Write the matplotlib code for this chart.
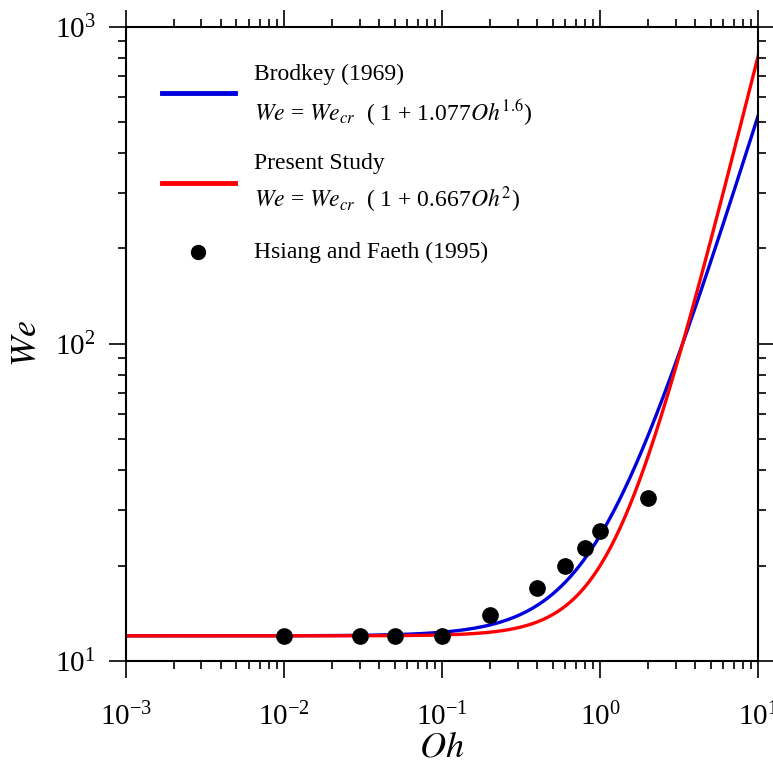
import numpy as np
import matplotlib
matplotlib.use("Agg")
import matplotlib.pyplot as plt
from matplotlib.ticker import LogLocator, NullFormatter

plt.rcParams['font.family'] = ['Liberation Serif', 'DejaVu Serif']
plt.rcParams['mathtext.fontset'] = 'stix'

# Model parameters (from the legend equations)
we_cr = 12.0
brodkey_coef, brodkey_exp = 1.077, 1.6
present_coef, present_exp = 0.667, 2.0

# Experimental data: Hsiang and Faeth (1995)
oh_data = [0.01, 0.03, 0.05, 0.1, 0.2, 0.4, 0.6, 0.8, 1.0, 2.0]
we_data = [12.0, 12.0, 12.0, 12.0, 14.0, 17.0, 19.9, 22.7, 25.7, 32.7]

oh = np.logspace(-3, 1, 400)
we_brodkey = we_cr * (1 + brodkey_coef * oh ** brodkey_exp)
we_present = we_cr * (1 + present_coef * oh ** present_exp)

fig = plt.figure(figsize=(7.73, 7.65), dpi=100)
ax = fig.add_axes([0.163, 0.136, 0.818, 0.829])

ax.plot(oh, we_brodkey, color='#0000dd', lw=2.4)
ax.plot(oh, we_present, color='#ff0000', lw=2.4)
ax.plot(oh_data, we_data, 'o', color='black', ms=11)

ax.set_xscale('log')
ax.set_yscale('log')
ax.set_xlim(1e-3, 10)
ax.set_ylim(10, 1000)

for s in ax.spines.values():
    s.set_linewidth(1.5)

ax.xaxis.set_major_locator(LogLocator(base=10, numticks=10))
ax.xaxis.set_minor_locator(LogLocator(base=10, subs=np.arange(2, 10), numticks=10))
ax.yaxis.set_major_locator(LogLocator(base=10, numticks=10))
ax.yaxis.set_minor_locator(LogLocator(base=10, subs=np.arange(2, 10), numticks=10))
ax.xaxis.set_minor_formatter(NullFormatter())
ax.yaxis.set_minor_formatter(NullFormatter())

ax.tick_params(which='both', direction='out', top=True, right=True, width=1.2,
               labelsize=21)
ax.tick_params(which='major', length=12)
ax.tick_params(which='minor', length=6)
ax.tick_params(axis='x', which='major', pad=18)
ax.tick_params(axis='y', which='major', pad=10)

ax.set_xlabel(r'$Oh$', fontsize=26, labelpad=0)
ax.set_ylabel(r'$We$', fontsize=26, labelpad=8)

# Manual legend
tx = 0.203
fs = 17
ax.plot([0.057, 0.172], [0.895, 0.895], transform=ax.transAxes, color='#0000dd', lw=3.5)
ax.text(tx, 0.925, 'Brodkey (1969)', transform=ax.transAxes, fontsize=fs, va='center')
ax.text(tx, 0.865, r'$We$ = $We_{cr}$  ( 1 + 1.077$Oh^{1.6}$)', transform=ax.transAxes,
        fontsize=fs, va='center')
ax.plot([0.057, 0.172], [0.754, 0.754], transform=ax.transAxes, color='#ff0000', lw=3.5)
ax.text(tx, 0.785, 'Present Study', transform=ax.transAxes, fontsize=fs, va='center')
ax.text(tx, 0.727, r'$We$ = $We_{cr}$  ( 1 + 0.667$Oh^{2}$)', transform=ax.transAxes,
        fontsize=fs, va='center')
ax.plot([0.114], [0.645], 'o', transform=ax.transAxes, color='black', ms=10)
ax.text(tx, 0.645, 'Hsiang and Faeth (1995)', transform=ax.transAxes, fontsize=fs, va='center')

fig.savefig('out.png', dpi=100)
